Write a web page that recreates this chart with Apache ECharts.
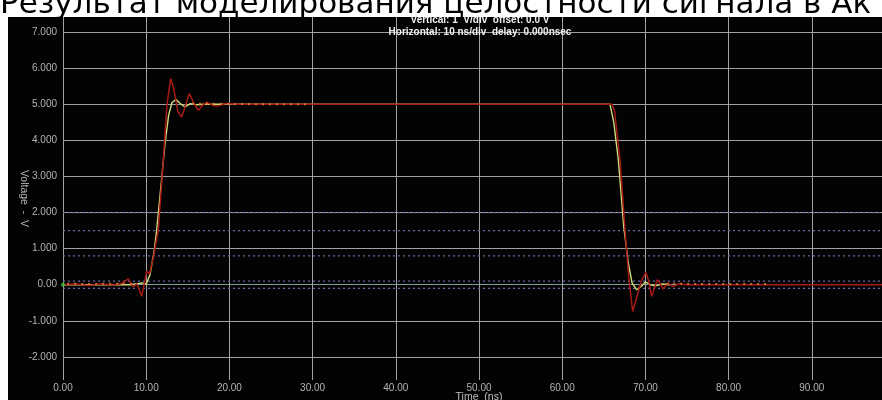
<!DOCTYPE html>
<html><head><meta charset="utf-8">
<script src="https://cdn.jsdelivr.net/npm/echarts@6/dist/echarts.min.js"></script>
<style>html,body{margin:0;padding:0;background:#fff}#c{width:882px;height:400px}</style>
</head><body><div id="c"></div>
<script>
const titleText = 'Результат моделирования целостности сигнала в Ак';
const infoLines = ['Vertical: 1  V/div  offset: 0.0 V', 'Horizontal: 10 ns/div  delay: 0.000nsec'];
const xAxisName = 'Time  (ns)';
const yAxisName = 'Voltage  -  V';
const yTickValues = [-2, -1, 0, 1, 2, 3, 4, 5, 6, 7];
const thresholds = [2.0, 1.5, 0.8, 0.1, -0.1];
const redWave = [[0,0],[1.5,0.02],[3,-0.02],[4.5,0.02],[6,-0.01],[7,0.03],[7.85,0.16],[8.4,-0.05],[8.9,0.02],[9.46,-0.32],[10.06,0.37],[10.4,0.3],[10.9,0.8],[11.45,1.52],[12.06,3.45],[12.5,5.0],[12.94,5.71],[13.3,5.45],[13.8,4.8],[14.27,4.65],[14.7,4.95],[15.18,5.30],[15.7,5.05],[16.26,4.83],[16.8,4.98],[17.27,5.06],[18.0,4.97],[18.6,4.95],[19.5,5.02],[21,5.0],[66.0,5.0],[66.3,4.8],[66.95,3.45],[67.55,1.52],[68.0,0.2],[68.47,-0.74],[68.9,-0.4],[69.5,0.1],[70.07,0.34],[70.4,0.1],[70.75,-0.32],[71.1,-0.1],[71.43,0.14],[71.8,0.02],[72.15,-0.12],[72.7,0.05],[73.3,-0.05],[74,0.02],[75,0],[100,0]];
const yellowWave = [[0,0],[8,0.0],[9,0.03],[9.5,0.05],[10.0,0.02],[10.46,0.28],[11.0,1.0],[11.26,1.52],[11.8,2.8],[12.26,3.91],[12.7,4.7],[13.1,5.05],[13.58,5.13],[14.1,5.02],[14.66,4.93],[15.3,5.02],[16,4.99],[17,5.0],[65.75,5.0],[66.2,4.5],[66.75,3.45],[67.4,1.6],[67.95,0.6],[68.4,0.05],[68.95,-0.14],[69.5,-0.05],[70.0,0.08],[70.6,0.0],[71.2,-0.03],[72,0.02],[73,0]];
const orangeSegments = [
  [[0.5,0.03],[3,0.02],[6,0.03],[9,0.02]],
  [[15.5,5.02],[20,5.01],[25,5.0],[29.5,5.0]],
  [[72.5,0.03],[78,0.02],[85,0.02]]
];
const startMarker = [[0, 0]];

const chart = echarts.init(document.getElementById('c'), null, {renderer: 'canvas'});
const gridGray = '#a2a2a2';
const splitColors = yTickValues.map(v => v === 0 ? '#7f9f95' : gridGray);
const labelFont = '"Liberation Sans"';

const series = [];
thresholds.forEach(v => series.push({
  type: 'line', data: [[0, v], [100, v]], symbol: 'none', silent: true, z: 1,
  lineStyle: {color: '#6868a8', width: 1.3, type: [2, 3]}
}));
series.push({type: 'line', data: yellowWave, symbol: 'none', z: 3,
  lineStyle: {color: '#cfdc78', width: 1.4}});
series.push({type: 'line', data: redWave, symbol: 'none', z: 4,
  lineStyle: {color: '#a81a16', width: 1.5}});
orangeSegments.forEach(seg => series.push({
  type: 'line', data: seg, symbol: 'none', z: 5,
  lineStyle: {color: '#e0803c', width: 2, type: [2, 5], opacity: 0.85}
}));
series.push({type: 'scatter', data: startMarker, symbolSize: 4, z: 6,
  itemStyle: {color: '#3ad040'}});

chart.setOption({
  backgroundColor: '#ffffff',
  animation: false,
  graphic: [
    {type: 'text', z: -10, z2: 0, x: 0, y: 5,
     style: {text: titleText, fill: '#000', font: '31px "DejaVu Sans"', verticalAlign: 'middle'}},
    {type: 'rect', z: -10, z2: 5, shape: {x: 8, y: 17, width: 874, height: 383},
     style: {fill: '#030303'}},
    {type: 'text', z: 10, x: 480, y: 20,
     style: {text: infoLines[0], fill: '#f0f0f0', align: 'center', verticalAlign: 'middle',
             font: 'bold 10px "Liberation Sans"'}},
    {type: 'text', z: 10, x: 480, y: 32,
     style: {text: infoLines[1], fill: '#f0f0f0', align: 'center', verticalAlign: 'middle',
             font: 'bold 10px "Liberation Sans"'}}
  ],
  grid: {left: 63, right: -13, top: 17, bottom: 20, containLabel: false, outerBoundsMode: 'none'},
  xAxis: {
    type: 'value', min: 0, max: 100, interval: 10,
    name: xAxisName, nameLocation: 'middle', nameGap: 12, nameMoveOverlap: false,
    nameTextStyle: {color: '#c0c0c0', fontSize: 10.5, fontFamily: labelFont},
    axisLine: {show: false}, axisTick: {show: false},
    axisLabel: {color: '#b4b4b4', fontSize: 10, fontFamily: labelFont, margin: 3,
      showMaxLabel: false, formatter: v => v.toFixed(2)},
    splitLine: {show: true, lineStyle: {color: gridGray, width: 1}}
  },
  yAxis: {
    type: 'value', min: -2.64, max: 7.42,
    name: yAxisName, nameLocation: 'middle', nameGap: 34, nameRotate: -90,
    nameMoveOverlap: false,
    nameTextStyle: {color: '#b4b4b4', fontSize: 10.5, fontFamily: labelFont},
    axisLine: {show: false},
    axisTick: {show: false, customValues: yTickValues},
    axisLabel: {color: '#b4b4b4', fontSize: 10, fontFamily: labelFont, margin: 6,
      customValues: yTickValues,
      formatter: v => v === 0 ? '0.00' : v.toFixed(3)},
    splitLine: {show: true, lineStyle: {color: splitColors, width: 1}}
  },
  series: series
});
</script></body></html>
